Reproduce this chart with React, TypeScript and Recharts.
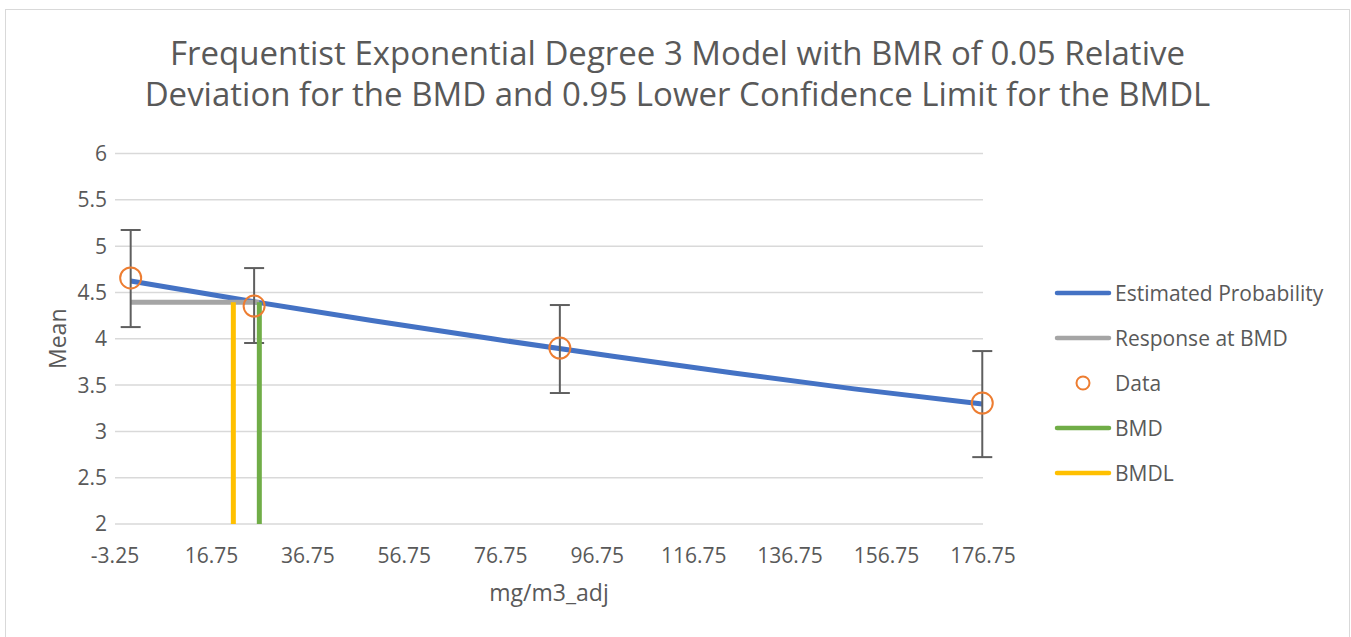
import {
  ComposedChart,
  Line,
  Scatter,
  ErrorBar,
  XAxis,
  YAxis,
  CartesianGrid,
  Legend,
} from "recharts";

// observed data (dose in mg/m3_adj, mean response, CI limits)
const doses = [0, 25.6, 89, 176.6];
const means = [4.656, 4.353, 3.9, 3.306];
const lowerCI = [4.126, 3.954, 3.414, 2.722];
const upperCI = [5.174, 4.763, 4.364, 3.867];

// fitted curve
const fitDoses = [0, 25, 50, 75, 100, 125, 150, 176.6];
const fitMeans = [4.623, 4.405, 4.197, 3.999, 3.81, 3.63, 3.459, 3.295];

const bmd = 26.68;
const bmdl = 21.29;
const bmdResponse = 4.394;
const yFloor = 2;

const xTicks = [-3.25, 16.75, 36.75, 56.75, 76.75, 96.75, 116.75, 136.75, 156.75, 176.75];
const yTicks = [2, 2.5, 3, 3.5, 4, 4.5, 5, 5.5, 6];

const colors = {
  fit: "#4472C4",
  response: "#A5A5A5",
  data: "#ED7D31",
  bmd: "#70AD47",
  bmdl: "#FFC000",
  text: "#595959",
  grid: "#D9D9D9",
};

const fitData = fitDoses.map((x, i) => ({ x, y: fitMeans[i] }));
const responseData = [
  { x: 0, y: bmdResponse },
  { x: bmd, y: bmdResponse },
];
const bmdData = [
  { x: bmd, y: yFloor },
  { x: bmd, y: bmdResponse },
];
const bmdlData = [
  { x: bmdl, y: yFloor },
  { x: bmdl, y: bmdResponse },
];
const pointData = doses.map((x, i) => ({
  x,
  y: means[i],
  err: [means[i] - lowerCI[i], upperCI[i] - means[i]],
}));

const legendItems = [
  { name: "Estimated Probability", color: colors.fit, kind: "line" },
  { name: "Response at BMD", color: colors.response, kind: "line" },
  { name: "Data", color: colors.data, kind: "circle" },
  { name: "BMD", color: colors.bmd, kind: "line" },
  { name: "BMDL", color: colors.bmdl, kind: "line" },
];

const LegendBox = () => (
  <svg width={310} height={230}>
    {legendItems.map((item, i) => {
      const cy = 23 + i * 45;
      return (
        <g key={item.name}>
          {item.kind === "line" ? (
            <line
              x1={17}
              x2={69}
              y1={cy}
              y2={cy}
              stroke={item.color}
              strokeWidth={4.5}
              strokeLinecap="round"
            />
          ) : (
            <circle cx={43} cy={cy} r={6.5} fill="none" stroke={item.color} strokeWidth={2} />
          )}
          <text x={75} y={cy + 7.5} fontSize={21} fill={colors.text}>
            {item.name}
          </text>
        </g>
      );
    })}
  </svg>
);

const DataCircle = (props: any) => (
  <circle cx={props.cx} cy={props.cy} r={10.5} fill="none" stroke={colors.data} strokeWidth={2} />
);

export default function App() {
  return (
    <div
      style={{
        position: "absolute",
        left: 0,
        top: 0,
        width: 1351,
        height: 637,
        fontFamily: "'Open Sans', sans-serif",
        background: "#fff",
        overflow: "hidden",
      }}
    >
      {/* chart border */}
      <div
        style={{
          position: "absolute",
          left: 5,
          top: 9,
          width: 1345,
          height: 628,
          boxSizing: "border-box",
          borderTop: "1.5px solid #D9D9D9",
          borderLeft: "1.5px solid #D9D9D9",
          borderRight: "1.5px solid #D9D9D9",
        }}
      />
      {/* title */}
      <div
        style={{
          position: "absolute",
          left: 5,
          top: 32,
          width: 1345,
          textAlign: "center",
          fontSize: 33,
          lineHeight: "41px",
          color: colors.text,
          whiteSpace: "nowrap",
        }}
      >
        Frequentist Exponential Degree 3 Model with BMR of 0.05 Relative
        <br />
        Deviation for the BMD and 0.95 Lower Confidence Limit for the BMDL
      </div>

      <div style={{ position: "absolute", left: 0, top: 0 }}>
        <ComposedChart
          width={1351}
          height={637}
          margin={{ top: 153.5, right: 368, bottom: 33, left: 0 }}
        >
          <CartesianGrid vertical={false} stroke={colors.grid} strokeWidth={1.5} />
          <XAxis
            type="number"
            dataKey="x"
            domain={[-3.25, 176.75]}
            ticks={xTicks}
            axisLine={false}
            tickLine={false}
            tickMargin={18}
            height={80}
            tick={{ fill: colors.text, fontSize: 21 }}
            label={{
              value: "mg/m3_adj",
              position: "insideBottom",
              offset: 3,
              style: { fill: colors.text, fontSize: 23 },
            }}
          />
          <YAxis
            type="number"
            domain={[2, 6]}
            ticks={yTicks}
            axisLine={false}
            tickLine={false}
            width={115}
            tick={{ fill: colors.text, fontSize: 21 }}
            label={{
              value: "Mean",
              angle: -90,
              position: "insideLeft",
              offset: 58,
              style: { fill: colors.text, fontSize: 23, textAnchor: "middle" },
            }}
          />
          <Legend
            layout="horizontal"
            align="center"
            verticalAlign="middle"
            wrapperStyle={{ left: 1040, top: 270, width: 310, height: 230 }}
            content={() => <LegendBox />}
          />
          <Line
            data={fitData}
            dataKey="y"
            name="Estimated Probability"
            stroke={colors.fit}
            strokeWidth={5}
            dot={false}
            activeDot={false}
            isAnimationActive={false}
          />
          <Line
            data={responseData}
            dataKey="y"
            name="Response at BMD"
            stroke={colors.response}
            strokeWidth={5}
            dot={false}
            activeDot={false}
            isAnimationActive={false}
          />
          <Scatter
            data={pointData}
            dataKey="y"
            name="Data"
            shape={DataCircle}
            isAnimationActive={false}
          >
            <ErrorBar
              dataKey="err"
              direction="y"
              width={10}
              stroke="#5F5F5F"
              strokeWidth={2}
              isAnimationActive={false}
            />
          </Scatter>
          <Line
            data={bmdData}
            dataKey="y"
            name="BMD"
            stroke={colors.bmd}
            strokeWidth={5}
            dot={false}
            activeDot={false}
            isAnimationActive={false}
          />
          <Line
            data={bmdlData}
            dataKey="y"
            name="BMDL"
            stroke={colors.bmdl}
            strokeWidth={5}
            dot={false}
            activeDot={false}
            isAnimationActive={false}
          />
        </ComposedChart>
      </div>
    </div>
  );
}
